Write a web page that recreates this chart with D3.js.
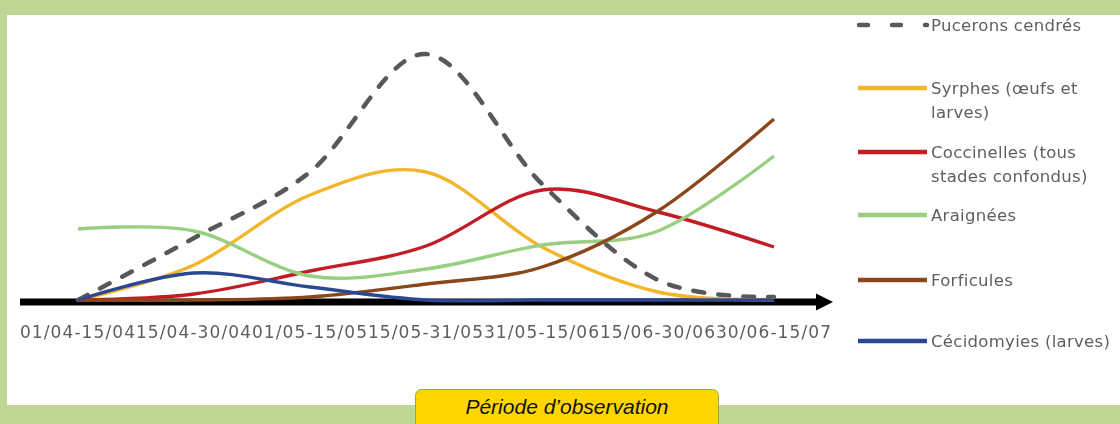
<!DOCTYPE html>
<html>
<head>
<meta charset="utf-8">
<script src="https://cdn.jsdelivr.net/npm/d3@7"></script>
<style>
  html, body { margin: 0; padding: 0; background: #bed794; }
  svg { display: block; }
</style>
</head>
<body>
<svg id="chart" width="1120" height="424"></svg>
<script>
// Observation periods (x categories)
const periods = ["01/04-15/04", "15/04-30/04", "01/05-15/05", "15/05-31/05",
                 "31/05-15/06", "15/06-30/06", "30/06-15/07"];

// Relative abundance of each group per period
const pucerons    = [0, 62, 128, 246, 116, 20, 3];
const syrphes     = [0, 35, 105, 128, 53, 8, 0];
const coccinelles = [0, 6, 29, 54, 110, 88, 53];
const araignees   = [71, 69, 24, 31, 55, 69, 144];
const forficules  = [0, 0, 3, 16, 33, 89, 181];
const cecidomyies = [0, 27, 13, 0, 0, 0, 0];

// Legend labels (wrapped lines)
const legendLabels = [
  ["Pucerons cendrés"],
  ["Syrphes (œufs et", "larves)"],
  ["Coccinelles (tous", "stades confondus)"],
  ["Araignées"],
  ["Forficules"],
  ["Cécidomyies (larves)"]
];
const xTitle = "Période d’observation";

const series = [
  { values: pucerons,    color: "#58585c", dashed: true },
  { values: syrphes,     color: "#f3b62a" },
  { values: coccinelles, color: "#c21d26" },
  { values: araignees,   color: "#98cf80" },
  { values: forficules,  color: "#8b461c" },
  { values: cecidomyies, color: "#2c4a92" }
];

const svg = d3.select("#chart");

// Panel background
svg.append("rect").attr("x", 0).attr("y", 0).attr("width", 1120).attr("height", 424).attr("fill", "#bed794");
svg.append("rect").attr("x", 7).attr("y", 15).attr("width", 1113).attr("height", 390).attr("fill", "#ffffff");

const defs = svg.append("defs");
defs.append("filter").attr("id", "soft")
  .attr("x", "-5%").attr("y", "-5%").attr("width", "110%").attr("height", "110%")
  .append("feGaussianBlur").attr("stdDeviation", 0.6);

const g = svg.append("g").attr("filter", "url(#soft)");

// Scales
const x = d3.scaleBand().domain(periods).range([20, 832]).paddingInner(0).paddingOuter(0);
const cx = p => x(p) + x.bandwidth() / 2;
const y = d3.scaleLinear().domain([0, 250]).range([300, 50]);

// Time axis with arrow
const axisY = y(0) + 2;
g.append("line")
  .attr("x1", 20).attr("x2", 818)
  .attr("y1", axisY).attr("y2", axisY)
  .attr("stroke", "#000").attr("stroke-width", 7);
g.append("path")
  .attr("d", `M816,${axisY - 8.5} L833,${axisY} L816,${axisY + 8.5} Z`)
  .attr("fill", "#000");

const xAxis = d3.axisBottom(x).tickSize(0).tickPadding(24);
const axG = g.append("g").attr("transform", `translate(0,${axisY})`).call(xAxis);
axG.select(".domain").remove();
axG.selectAll("text")
  .attr("fill", "#5e5e5e")
  .style("font-family", "'DejaVu Sans', sans-serif")
  .style("font-size", "17px")
  .style("letter-spacing", "1.1px");

// Smoothed curves
const line = d3.line()
  .x((d, i) => cx(periods[i]))
  .y(d => y(d))
  .curve(d3.curveCardinal.tension(0));

series.forEach(s => {
  g.append("path")
    .datum(s.values)
    .attr("d", line)
    .attr("fill", "none")
    .attr("stroke", s.color)
    .attr("stroke-width", s.dashed ? 4.5 : 3.4)
    .attr("stroke-linecap", s.dashed ? "round" : "butt")
    .attr("stroke-dasharray", s.dashed ? "11,14" : null);
});

// Legend
const legendY = [25, 88, 152, 215, 280, 341];
const leg = g.append("g");
series.forEach((s, i) => {
  leg.append("line")
    .attr("x1", s.dashed ? 859 : 858).attr("x2", 927)
    .attr("y1", legendY[i]).attr("y2", legendY[i])
    .attr("stroke", s.color)
    .attr("stroke-width", 4.5)
    .attr("stroke-linecap", s.dashed ? "round" : "butt")
    .attr("stroke-dasharray", s.dashed ? "9,24" : null);
  const t = leg.append("text")
    .attr("x", 931).attr("y", legendY[i] + 6)
    .attr("fill", "#5e5e5e")
    .style("font-family", "'DejaVu Sans', sans-serif")
    .style("font-size", "16.5px")
    .style("letter-spacing", "0.3px");
  legendLabels[i].forEach((txt, k) => {
    t.append("tspan").attr("x", 931).attr("dy", k === 0 ? 0 : 23.5).text(txt);
  });
});

// Axis title box
svg.append("rect")
  .attr("x", 415.5).attr("y", 389.5).attr("width", 303).attr("height", 50)
  .attr("rx", 6).attr("ry", 6)
  .attr("fill", "#ffd600").attr("stroke", "#86b050").attr("stroke-width", 1);
svg.append("text")
  .attr("x", 567).attr("y", 414)
  .attr("text-anchor", "middle")
  .attr("fill", "#111")
  .style("font-family", "'Liberation Sans', Arial, sans-serif")
  .style("font-style", "italic")
  .style("font-size", "21px")
  .text(xTitle);
</script>
</body>
</html>
